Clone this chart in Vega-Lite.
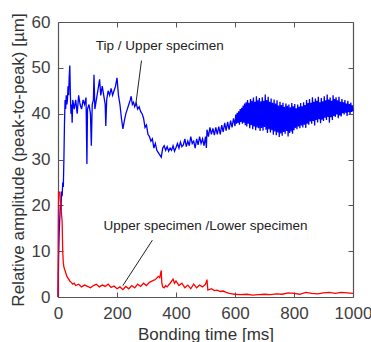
{
  "$schema": "https://vega.github.io/schema/vega-lite/v6.json",
  "width": 295,
  "height": 275,
  "autosize": "none",
  "padding": {"left": 58, "top": 22, "right": 18, "bottom": 45},
  "background": "white",
  "config": {
    "font": "Liberation Sans",
    "view": {"stroke": null},
    "axis": {
      "grid": false,
      "domainColor": "#555555",
      "domainWidth": 1.2,
      "tickColor": "#555555",
      "tickSize": -5,
      "labelFlush": false,
      "labelOverlap": false,
      "labelFont": "Liberation Sans",
      "labelFontSize": 17,
      "labelColor": "#404040",
      "titleFont": "Liberation Sans",
      "titleFontSize": 17,
      "titleFontWeight": "normal",
      "titleColor": "#333333",
      "format": "d"
    }
  },
  "datasets": {
    "blue": [
      {"t":0,"v":0},{"t":2,"v":9},{"t":4,"v":14},{"t":6,"v":17},{"t":8,"v":20},{"t":10,"v":19},{"t":12,"v":23},{"t":14,"v":22},{"t":16,"v":25},{"t":18,"v":24},{"t":20,"v":30},{"t":22,"v":38},{"t":24,"v":43},{"t":26,"v":41},{"t":28,"v":44},{"t":30,"v":42},{"t":32,"v":43},{"t":34,"v":46},{"t":36,"v":44},{"t":38,"v":48},{"t":40,"v":50.5},{"t":42,"v":44},{"t":44,"v":40},{"t":46,"v":42},{"t":48,"v":38},{"t":50,"v":43},{"t":55,"v":41},{"t":60,"v":43},{"t":65,"v":40},{"t":70,"v":44},{"t":75,"v":42},{"t":80,"v":41},{"t":85,"v":43},{"t":90,"v":42},{"t":95,"v":43.5},{"t":98,"v":29},{"t":100,"v":41},{"t":105,"v":42},{"t":110,"v":40},{"t":113,"v":33},{"t":116,"v":42},{"t":120,"v":43},{"t":122,"v":48.5},{"t":125,"v":41},{"t":130,"v":43},{"t":135,"v":45},{"t":141,"v":47.5},{"t":145,"v":44},{"t":150,"v":46},{"t":155,"v":44},{"t":160,"v":42},{"t":162,"v":37.3},{"t":165,"v":43},{"t":170,"v":45},{"t":175,"v":44},{"t":180,"v":45.5},{"t":185,"v":44},{"t":190,"v":45},{"t":195,"v":46},{"t":200,"v":47.8},{"t":205,"v":44},{"t":210,"v":42},{"t":215,"v":39},{"t":220,"v":36.7},{"t":225,"v":38.5},{"t":230,"v":40},{"t":235,"v":41},{"t":240,"v":42},{"t":245,"v":43},{"t":248,"v":43.8},{"t":252,"v":42},{"t":256,"v":42.5},{"t":260,"v":41.5},{"t":265,"v":42.3},{"t":270,"v":41},{"t":275,"v":41.5},{"t":280,"v":40.5},{"t":285,"v":40},{"t":290,"v":39},{"t":295,"v":37},{"t":300,"v":37.5},{"t":305,"v":35.5},{"t":310,"v":35},{"t":315,"v":34},{"t":320,"v":34.5},{"t":325,"v":32.5},{"t":330,"v":33.5},{"t":335,"v":32},{"t":340,"v":31.5},{"t":345,"v":31},{"t":350,"v":30.5},{"t":355,"v":32.5},{"t":360,"v":33},{"t":365,"v":32},{"t":370,"v":32.8},{"t":375,"v":31.8},{"t":380,"v":32.5},{"t":385,"v":32},{"t":390,"v":33},{"t":395,"v":31.8},{"t":400,"v":32.6},{"t":405,"v":33.5},{"t":410,"v":32.5},{"t":415,"v":33.8},{"t":420,"v":32.8},{"t":425,"v":33.2},{"t":430,"v":34.5},{"t":435,"v":32.8},{"t":440,"v":34},{"t":445,"v":33},{"t":450,"v":35},{"t":455,"v":33.5},{"t":460,"v":34},{"t":465,"v":32.5},{"t":470,"v":34.5},{"t":475,"v":33.2},{"t":480,"v":35},{"t":485,"v":33.5},{"t":490,"v":34.5},{"t":495,"v":33},{"t":500,"v":35},{"t":503,"v":32.5},{"t":505,"v":36.5},{"t":510,"v":35},{"t":515,"v":37},{"t":520,"v":35.5},{"t":525,"v":36.8},{"t":530,"v":35.3},{"t":535,"v":37},{"t":540,"v":35.5},{"t":545,"v":37.2},{"t":550,"v":35.5},{"t":555,"v":37.5},{"t":560,"v":36},{"t":565,"v":38},{"t":570,"v":36.3},{"t":575,"v":38.2},{"t":580,"v":36.5},{"t":585,"v":38.5},{"t":590,"v":37},{"t":595,"v":39},
      {"t":600,"v":37.3},{"t":602.5,"v":39.8},{"t":605,"v":37.8},{"t":607.5,"v":40.2},{"t":610,"v":38},{"t":612.5,"v":40.5},{"t":615,"v":37.6},{"t":617.5,"v":41},{"t":620,"v":38.2},{"t":622.5,"v":41.3},{"t":625,"v":37.8},{"t":627.5,"v":41.8},{"t":630,"v":38},{"t":632.5,"v":42.2},{"t":635,"v":37.5},{"t":637.5,"v":42.5},{"t":640,"v":37.2},{"t":642.5,"v":43},{"t":645,"v":37.8},{"t":647.5,"v":42.4},{"t":650,"v":36.8},{"t":652.5,"v":43.2},{"t":655,"v":37.5},{"t":657.5,"v":42.8},{"t":660,"v":36.6},{"t":662.5,"v":43.5},{"t":665,"v":37.2},{"t":667.5,"v":42.6},{"t":670,"v":36.4},{"t":672.5,"v":43.8},{"t":675,"v":37},{"t":677.5,"v":42.9},{"t":680,"v":36.8},{"t":682.5,"v":43.4},{"t":685,"v":36.2},{"t":687.5,"v":42.7},{"t":690,"v":36.9},{"t":692.5,"v":43.6},{"t":695,"v":36.3},{"t":697.5,"v":42.8},{"t":700,"v":37.1},{"t":702.5,"v":44.2},{"t":705,"v":36.5},{"t":707.5,"v":43},{"t":710,"v":35.8},{"t":712.5,"v":43.7},{"t":715,"v":36.6},{"t":717.5,"v":42.6},{"t":720,"v":35.9},{"t":722.5,"v":43.3},{"t":725,"v":36.4},{"t":727.5,"v":42.4},{"t":730,"v":35.4},{"t":732.5,"v":43.1},{"t":735,"v":36.1},{"t":737.5,"v":42.2},{"t":740,"v":35.3},{"t":742.5,"v":42.9},{"t":745,"v":35.9},{"t":747.5,"v":41.8},{"t":750,"v":34.9},{"t":752.5,"v":42.6},{"t":755,"v":35.7},{"t":757.5,"v":41.9},{"t":760,"v":35.2},{"t":762.5,"v":42.4},{"t":765,"v":36},{"t":767.5,"v":41.5},{"t":770,"v":35.6},{"t":772.5,"v":42.2},{"t":775,"v":36.2},{"t":777.5,"v":41.7},{"t":780,"v":35},{"t":782.5,"v":42},{"t":785,"v":35.8},{"t":787.5,"v":41.4},{"t":790,"v":36.1},{"t":792.5,"v":42.3},{"t":795,"v":35.6},{"t":797.5,"v":41.6},{"t":800,"v":36.4},{"t":802.5,"v":42.1},{"t":805,"v":36.9},{"t":807.5,"v":41.2},{"t":810,"v":36.6},{"t":812.5,"v":42},{"t":815,"v":37.2},{"t":817.5,"v":41.5},{"t":820,"v":36.8},{"t":822.5,"v":42.3},{"t":825,"v":37.4},{"t":827.5,"v":41.6},{"t":830,"v":37},{"t":832.5,"v":42.5},{"t":835,"v":37.6},{"t":837.5,"v":41.9},{"t":840,"v":36.9},{"t":842.5,"v":43},{"t":845,"v":37.8},{"t":847.5,"v":42.3},{"t":850,"v":37.6},{"t":852.5,"v":43.2},{"t":855,"v":38.3},{"t":857.5,"v":42.4},{"t":860,"v":37.8},{"t":862.5,"v":43.6},{"t":865,"v":38.4},{"t":867.5,"v":42.6},{"t":870,"v":37.4},{"t":872.5,"v":43.3},{"t":875,"v":38.6},{"t":877.5,"v":42.8},{"t":880,"v":38.1},{"t":882.5,"v":43.7},{"t":885,"v":38.8},{"t":887.5,"v":42.5},{"t":890,"v":37.9},{"t":892.5,"v":43.4},{"t":895,"v":38.7},{"t":897.5,"v":42.7},{"t":900,"v":38.4},{"t":902.5,"v":43.8},{"t":905,"v":39.1},{"t":907.5,"v":42.9},{"t":910,"v":38.6},{"t":912.5,"v":44.2},{"t":915,"v":39.3},{"t":917.5,"v":43.1},{"t":920,"v":38},{"t":922.5,"v":43.5},{"t":925,"v":39.2},{"t":927.5,"v":42.8},{"t":930,"v":38.6},{"t":932.5,"v":44},{"t":935,"v":39.5},{"t":937.5,"v":43.2},{"t":940,"v":39.3},{"t":942.5,"v":43.6},{"t":945,"v":39.8},{"t":947.5,"v":42.9},{"t":950,"v":39},{"t":952.5,"v":43.7},{"t":955,"v":39.6},{"t":957.5,"v":42.6},{"t":960,"v":39.4},{"t":962.5,"v":43.2},{"t":965,"v":40.1},{"t":967.5,"v":42.5},{"t":970,"v":39.8},{"t":972.5,"v":43},{"t":975,"v":40.2},{"t":977.5,"v":42.2},{"t":980,"v":39.5},{"t":982.5,"v":42.8},{"t":985,"v":40.3},{"t":987.5,"v":42.1},{"t":990,"v":39.9},{"t":992.5,"v":42.4},{"t":995,"v":40.4},{"t":997.5,"v":41.8},{"t":1000,"v":40.5}
    ],
    "red": [
      {"t":0,"v":0},{"t":1,"v":15},{"t":2,"v":23},{"t":4,"v":22.5},{"t":6,"v":23},{"t":8,"v":21},{"t":10,"v":20},{"t":12,"v":18},{"t":14,"v":16.5},{"t":16,"v":10},{"t":18,"v":7.5},{"t":20,"v":6.5},{"t":25,"v":5.5},{"t":30,"v":4.5},{"t":35,"v":4},{"t":40,"v":3.5},{"t":45,"v":3.2},{"t":50,"v":2.8},{"t":55,"v":3},{"t":60,"v":2.5},{"t":70,"v":2.8},{"t":80,"v":2.2},{"t":90,"v":2.6},{"t":100,"v":2.3},{"t":110,"v":2},{"t":120,"v":2.5},{"t":130,"v":2.8},{"t":140,"v":2.2},{"t":150,"v":2.6},{"t":160,"v":2.3},{"t":170,"v":2.8},{"t":180,"v":2.1},{"t":190,"v":2.4},{"t":200,"v":1.8},{"t":210,"v":2.2},{"t":220,"v":1.6},{"t":230,"v":2.3},{"t":240,"v":1.8},{"t":250,"v":2.5},{"t":260,"v":2},{"t":270,"v":2.8},{"t":280,"v":2.3},{"t":290,"v":3},{"t":300,"v":2.5},{"t":310,"v":3.2},{"t":320,"v":3.5},{"t":330,"v":3.8},{"t":340,"v":4.5},{"t":345,"v":4.2},{"t":350,"v":5.8},{"t":352,"v":3},{"t":355,"v":2.2},{"t":360,"v":2},{"t":365,"v":2.5},{"t":370,"v":2.2},{"t":380,"v":3},{"t":390,"v":3.9},{"t":395,"v":3},{"t":400,"v":3.5},{"t":410,"v":2.5},{"t":420,"v":3},{"t":430,"v":2},{"t":440,"v":2.6},{"t":450,"v":1.8},{"t":460,"v":2.8},{"t":470,"v":2},{"t":480,"v":2.6},{"t":490,"v":2.2},{"t":500,"v":2.8},{"t":505,"v":3.8},{"t":508,"v":1.5},{"t":520,"v":1.8},{"t":530,"v":1.4},{"t":540,"v":1.5},{"t":550,"v":1.2},{"t":560,"v":1.3},{"t":570,"v":1},{"t":580,"v":0.8},{"t":590,"v":0.7},{"t":600,"v":0.6},{"t":620,"v":0.5},{"t":640,"v":0.6},{"t":660,"v":0.4},{"t":680,"v":0.5},{"t":700,"v":0.6},{"t":720,"v":0.5},{"t":740,"v":0.7},{"t":760,"v":0.6},{"t":780,"v":0.9},{"t":800,"v":0.8},{"t":820,"v":0.6},{"t":840,"v":1},{"t":860,"v":0.8},{"t":880,"v":0.7},{"t":900,"v":0.9},{"t":920,"v":1},{"t":940,"v":0.8},{"t":960,"v":1},{"t":980,"v":0.9},{"t":1000,"v":0.8}
    ],
    "leaders": [
      {"x1":283,"y1":51.6,"x2":263,"y2":41.7},
      {"x1":320,"y1":12.4,"x2":220,"y2":2.5}
    ],
    "labels": [
      {"x":345,"y":54.7,"label":"Tip / Upper specimen"},
      {"x":500,"y":15.6,"label":"Upper specimen /Lower specimen"}
    ]
  },
  "layer": [
    {
      "data": {"name": "blue"},
      "mark": {"type": "line", "color": "#0000ff", "strokeWidth": 1.3},
      "encoding": {
        "x": {"field": "t", "type": "quantitative", "scale": {"domain": [0, 1000], "nice": false},
              "axis": {"title": "Bonding time [ms]", "values": [0,200,400,600,800,1000], "labelPadding": 13, "titlePadding": 5, "orient": "bottom"}},
        "y": {"field": "v", "type": "quantitative", "scale": {"domain": [0, 60], "nice": false},
              "axis": {"title": "Relative amplitude (peak-to-peak) [µm]", "values": [0,10,20,30,40,50,60], "labelPadding": 13, "titlePadding": 4, "orient": "left"}}
      }
    },
    {
      "data": {"name": "red"},
      "mark": {"type": "line", "color": "#ff0000", "strokeWidth": 1.3},
      "encoding": {
        "x": {"field": "t", "type": "quantitative",
              "axis": {"orient": "top", "title": null, "labels": false, "values": [0,200,400,600,800,1000]}},
        "y": {"field": "v", "type": "quantitative",
              "axis": {"orient": "right", "title": null, "labels": false, "values": [0,10,20,30,40,50,60]}}
      }
    },
    {
      "data": {"name": "leaders"},
      "mark": {"type": "rule", "color": "#222222", "strokeWidth": 1},
      "encoding": {
        "x": {"field": "x1", "type": "quantitative", "axis": null},
        "y": {"field": "y1", "type": "quantitative", "axis": null},
        "x2": {"field": "x2"},
        "y2": {"field": "y2"}
      }
    },
    {
      "data": {"name": "labels"},
      "mark": {"type": "text", "fontSize": 13.5, "color": "#222222", "font": "Liberation Sans", "baseline": "middle", "align": "center"},
      "encoding": {
        "x": {"field": "x", "type": "quantitative", "axis": null},
        "y": {"field": "y", "type": "quantitative", "axis": null},
        "text": {"field": "label"}
      }
    }
  ],
  "resolve": {"axis": {"x": "independent", "y": "independent"}}
}
